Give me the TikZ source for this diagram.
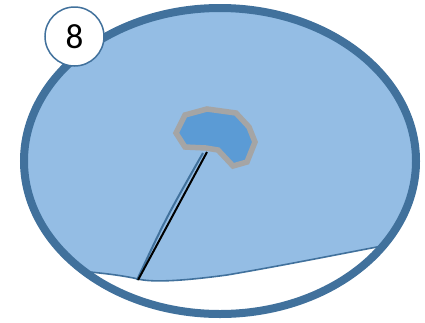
\documentclass[tikz,border=0pt]{standalone}
\usepackage{fontspec}
\setmainfont{Carlito}
\begin{document}
\begin{tikzpicture}[x=1pt,y=-1pt]
\definecolor{rim}{HTML}{41719C}
\definecolor{lightfill}{HTML}{94BDE4}
\definecolor{blobfill}{HTML}{5B9BD5}
\definecolor{blobedge}{HTML}{A5A5A5}
\tikzset{
  badge/.style={circle, draw=rim, line width=1.5pt, fill=white, minimum size=59pt, inner sep=0pt, font=\fontsize{35}{35}\selectfont},
  rimline/.style={draw=rim, line width=1.6pt},
}
\useasboundingbox (0,0) rectangle (425,322);
\begin{scope}
  \clip (220,161) ellipse [x radius=196, y radius=153];
  \fill[lightfill] (0,0) -- (0,271) -- (90,272) .. controls (110,274) and (125,276) .. (138,279)
    .. controls (150,282) and (175,282) .. (227,275)
    .. controls (280,266) and (340,254) .. (377,247) -- (425,238) -- (425,0) -- cycle;
  \draw[rimline] (0,271) -- (90,272) .. controls (110,274) and (125,276) .. (138,279)
    .. controls (150,282) and (175,282) .. (227,275)
    .. controls (280,266) and (340,254) .. (377,247) -- (425,238);
\end{scope}
\draw[draw=rim, line width=8pt] (220,161) ellipse [x radius=196, y radius=153];
% needle
\coordinate (tipA) at (138,280);
\coordinate (tipB) at (207,152);
\draw[rim, line width=2pt] (137,280) .. controls (166,218) .. (203,153);
\draw[black, line width=2pt] (tipA) -- (tipB);
% blob
\draw[blobedge, fill=blobfill, line width=5.5pt, line join=miter]
  (185,115) -- (207,109) -- (236,113) -- (249,127) -- (255,142) -- (247,162)
  -- (233,166) -- (218,150) -- (206,148) -- (185,147) -- (176,133) -- cycle;
% badge
\node[badge] (num) at (74.5,36.5) {8};
\end{tikzpicture}
\end{document}
